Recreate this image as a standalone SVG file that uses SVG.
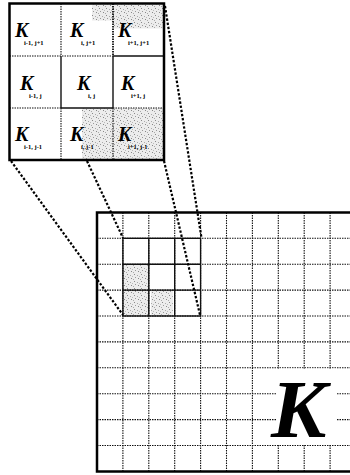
<svg xmlns="http://www.w3.org/2000/svg" width="350" height="475" viewBox="0 0 350 475">
  <defs>
    <pattern id="speckle" width="7" height="7" patternUnits="userSpaceOnUse">
      <rect width="7" height="7" fill="#ececec"/>
      <rect x="1" y="1" width="1" height="1" fill="#888"/>
      <rect x="4" y="2" width="1" height="1" fill="#aaa"/>
      <rect x="2" y="4" width="1" height="1" fill="#999"/>
      <rect x="5" y="5" width="1" height="1" fill="#888"/>
      <rect x="6" y="3" width="1" height="1" fill="#bbb"/>
      <rect x="0" y="6" width="1" height="1" fill="#aaa"/>
    </pattern>
  </defs>
  <style>
    .bg { fill: #ffffff; }
    .shade { fill: url(#speckle); }
    .dot { stroke: #111; stroke-width: 1.1; stroke-dasharray: 1.5 1; fill: none; }
    .solid { stroke: #111; stroke-width: 1.4; fill: none; }
    .frame { stroke: #000; stroke-width: 2.5; fill: none; }
    .conn { stroke: #000; stroke-width: 2.2; stroke-dasharray: 2.4 1.8; fill: none; }
    .k { font-family: "Liberation Serif", "DejaVu Serif", serif; font-weight: bold; font-style: italic; fill: #000; }
    .ks { font-size: 20px; }
    .sub { font-family: "Liberation Serif", "DejaVu Serif", serif; font-weight: bold; font-size: 6.5px; fill: #000; }
  </style>
  <rect class="bg" x="0" y="0" width="350" height="475"/>

  <!-- main grid -->
  <g id="main-grid">
    <rect class="shade" x="123" y="264.2" width="25.8" height="51.8"/>
    <rect class="shade" x="151" y="290.1" width="22" height="25.9"/>
    <g class="dot">
      <line x1="122.9" y1="212.4" x2="122.9" y2="471.4"/>
      <line x1="148.8" y1="212.4" x2="148.8" y2="471.4"/>
      <line x1="174.7" y1="212.4" x2="174.7" y2="471.4"/>
      <line x1="200.6" y1="212.4" x2="200.6" y2="471.4"/>
      <line x1="226.5" y1="212.4" x2="226.5" y2="471.4"/>
      <line x1="252.4" y1="212.4" x2="252.4" y2="471.4"/>
      <line x1="278.3" y1="212.4" x2="278.3" y2="471.4"/>
      <line x1="304.2" y1="212.4" x2="304.2" y2="471.4"/>
      <line x1="330.1" y1="212.4" x2="330.1" y2="471.4"/>
      <line x1="97" y1="238.3" x2="350" y2="238.3"/>
      <line x1="97" y1="264.2" x2="350" y2="264.2"/>
      <line x1="97" y1="290.1" x2="350" y2="290.1"/>
      <line x1="97" y1="316" x2="350" y2="316"/>
      <line x1="97" y1="341.9" x2="350" y2="341.9"/>
      <line x1="97" y1="367.8" x2="350" y2="367.8"/>
      <line x1="97" y1="393.7" x2="350" y2="393.7"/>
      <line x1="97" y1="419.6" x2="350" y2="419.6"/>
      <line x1="97" y1="445.5" x2="350" y2="445.5"/>
    </g>
    <g class="solid">
      <rect x="122.9" y="238.3" width="77.7" height="77.7"/>
      <line x1="148.8" y1="238.3" x2="148.8" y2="316"/>
      <line x1="174.7" y1="238.3" x2="174.7" y2="316"/>
      <line x1="122.9" y1="264.2" x2="200.6" y2="264.2"/>
      <line x1="122.9" y1="290.1" x2="200.6" y2="290.1"/>
    </g>
    <path class="frame" d="M352,212.4 H97 V471.4 H352"/>
  </g>

  <!-- big K label -->
  <g id="big-label">
    <rect class="bg" x="276" y="368.6" width="60" height="76.2"/>
    <text class="k" x="271" y="437" font-size="83">K</text>
  </g>

  <!-- inset 3x3 neighbourhood -->
  <g id="inset">
    <rect class="bg" x="9.5" y="3.5" width="154.5" height="156.5"/>
    <rect class="shade" x="113" y="4.5" width="50" height="24"/>
    <rect class="shade" x="92" y="4.5" width="21" height="16"/>
    <rect class="shade" x="82" y="108" width="81" height="51"/>
    <g class="dot">
      <line x1="61" y1="3.5" x2="61" y2="56"/>
      <line x1="113" y1="3.5" x2="113" y2="56" stroke-width="1.8"/>
      <line x1="61" y1="108" x2="61" y2="160"/>
      <line x1="113" y1="108" x2="113" y2="160"/>
      <line x1="9.5" y1="56" x2="113" y2="56"/>
      <line x1="9.5" y1="108" x2="61" y2="108"/>
      <line x1="113" y1="108" x2="164" y2="108"/>
    </g>
    <g class="solid">
      <line x1="61" y1="56" x2="61" y2="108"/>
      <line x1="113" y1="56" x2="113" y2="108"/>
      <line x1="113" y1="56" x2="164" y2="56"/>
      <line x1="61" y1="108" x2="113" y2="108"/>
    </g>
    <rect class="frame" x="9.5" y="3.5" width="154.5" height="156.5"/>

    <g id="cell-im1-jp1"><text class="k ks" x="15" y="37">K</text><text class="sub" x="24" y="45">i-1, j+1</text></g>
    <g id="cell-i-jp1"><text class="k ks" x="70" y="37">K</text><text class="sub" x="81" y="45">i, j+1</text></g>
    <g id="cell-ip1-jp1"><text class="k ks" x="118" y="37">K</text><text class="sub" x="128" y="45">i+1, j+1</text></g>
    <g id="cell-im1-j"><text class="k ks" x="20" y="90">K</text><text class="sub" x="29" y="98">i-1, j</text></g>
    <g id="cell-i-j"><text class="k ks" x="77" y="90">K</text><text class="sub" x="88" y="98">i, j</text></g>
    <g id="cell-ip1-j"><text class="k ks" x="121" y="90">K</text><text class="sub" x="131" y="98">i+1, j</text></g>
    <g id="cell-im1-jm1"><text class="k ks" x="15" y="141">K</text><text class="sub" x="24" y="149">i-1, j-1</text></g>
    <g id="cell-i-jm1"><text class="k ks" x="70" y="141">K</text><text class="sub" x="81" y="149">i, j-1</text></g>
    <g id="cell-ip1-jm1"><text class="k ks" x="118" y="141">K</text><text class="sub" x="128" y="149">i+1, j-1</text></g>
  </g>

  <!-- connectors -->
  <g id="connectors">
    <line class="conn" x1="11" y1="161" x2="123" y2="315"/>
    <line class="conn" x1="87" y1="161" x2="123" y2="238"/>
    <line class="conn" x1="164" y1="161" x2="200" y2="315"/>
    <line class="conn" x1="165" y1="6" x2="201.5" y2="238"/>
  </g>
</svg>
